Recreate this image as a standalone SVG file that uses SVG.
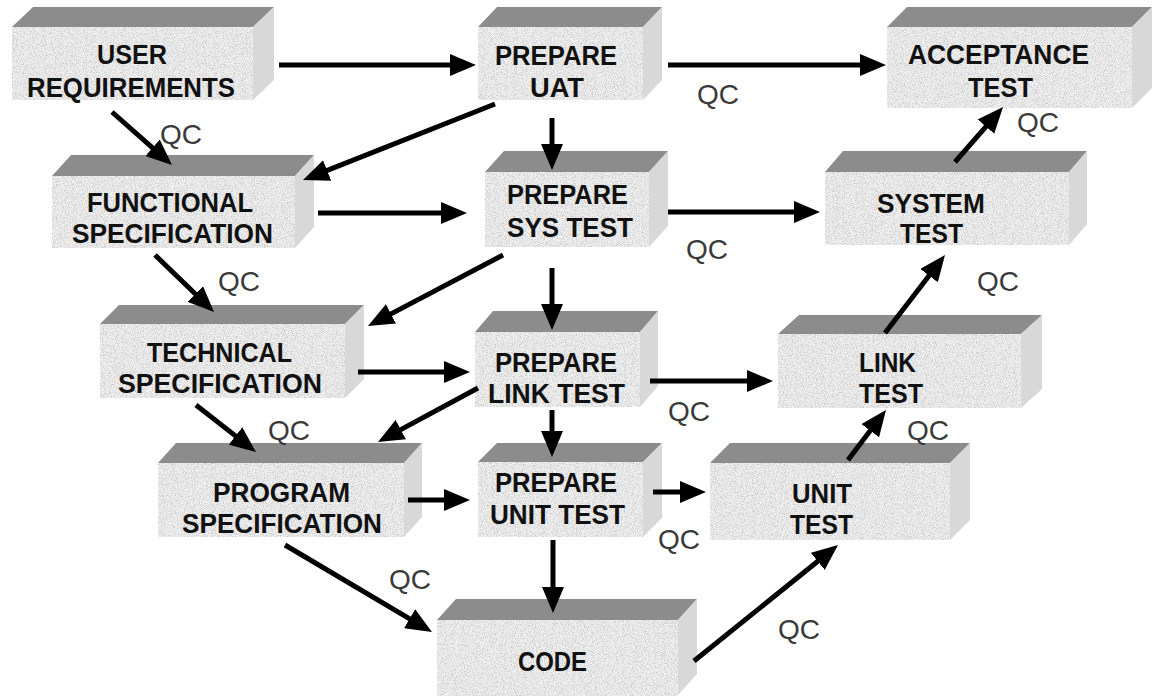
<svg xmlns="http://www.w3.org/2000/svg" width="1153" height="696" viewBox="0 0 1153 696">
<defs>
<style>
.front{fill:#f0f0f0;filter:url(#grain)}
.top{fill:#8c8c8c}
.side{fill:#d8d8d8}
.lbl{font-family:"Liberation Sans",Arial,sans-serif;font-weight:bold;font-size:27px;fill:#111}
.qc{font-family:"Liberation Sans",Arial,sans-serif;font-size:28px;fill:#3a3a3a}
.arr{stroke:#000;stroke-width:5;fill:none;marker-end:url(#ah)}
</style>
<filter id="grain" x="0" y="0" width="100%" height="100%">
<feTurbulence type="fractalNoise" baseFrequency="1.1" numOctaves="2" seed="4" result="n"/>
<feColorMatrix in="n" type="matrix" values="0 0 0 0 0.6 0 0 0 0 0.6 0 0 0 0 0.6 3.2 0 0 0 -1.35" result="g"/>
<feComposite in="g" in2="SourceGraphic" operator="in" result="gi"/>
<feMerge><feMergeNode in="SourceGraphic"/><feMergeNode in="gi"/></feMerge>
</filter>
<marker id="ah" markerUnits="userSpaceOnUse" viewBox="0 0 26 22" refX="8" refY="11" markerWidth="26" markerHeight="22" orient="auto">
<path d="M0,0 L26,11 L0,22 z" fill="#000"/>
</marker>
</defs>

<g id="user-requirements">
<polygon class="top" points="12,27 33,7 274,7 253,27"/>
<polygon class="side" points="253,27 274,7 274,80 253,100"/>
<rect class="front" x="12" y="27" width="241" height="73"/>
<text class="lbl" x="97" y="64" textLength="70" lengthAdjust="spacingAndGlyphs">USER</text>
<text class="lbl" x="27" y="97" textLength="208" lengthAdjust="spacingAndGlyphs">REQUIREMENTS</text>
</g>

<g id="prepare-uat">
<polygon class="top" points="478,27 497,7 662,7 643,27"/>
<polygon class="side" points="643,27 662,7 662,80 643,100"/>
<rect class="front" x="478" y="27" width="165" height="73"/>
<text class="lbl" x="495" y="65" textLength="122" lengthAdjust="spacingAndGlyphs">PREPARE</text>
<text class="lbl" x="530" y="97" textLength="54" lengthAdjust="spacingAndGlyphs">UAT</text>
</g>

<g id="acceptance-test">
<polygon class="top" points="887,27 907,7 1152,7 1132,27"/>
<polygon class="side" points="1132,27 1152,7 1152,88 1132,108"/>
<rect class="front" x="887" y="27" width="245" height="81"/>
<text class="lbl" x="908" y="64" textLength="181" lengthAdjust="spacingAndGlyphs">ACCEPTANCE</text>
<text class="lbl" x="968" y="97" textLength="65" lengthAdjust="spacingAndGlyphs">TEST</text>
</g>

<g id="functional-specification">
<polygon class="top" points="52,176 71,155 314,155 295,176"/>
<polygon class="side" points="295,176 314,155 314,227 295,248"/>
<rect class="front" x="52" y="176" width="243" height="72"/>
<text class="lbl" x="87" y="212" textLength="166" lengthAdjust="spacingAndGlyphs">FUNCTIONAL</text>
<text class="lbl" x="72" y="243" textLength="201" lengthAdjust="spacingAndGlyphs">SPECIFICATION</text>
</g>

<g id="prepare-sys-test">
<polygon class="top" points="485,172 504,151 668,151 649,172"/>
<polygon class="side" points="649,172 668,151 668,226 649,247"/>
<rect class="front" x="485" y="172" width="164" height="75"/>
<text class="lbl" x="507" y="204" textLength="121" lengthAdjust="spacingAndGlyphs">PREPARE</text>
<text class="lbl" x="507" y="237" textLength="126" lengthAdjust="spacingAndGlyphs">SYS TEST</text>
</g>

<g id="system-test">
<polygon class="top" points="825,172 843,151 1087,151 1069,172"/>
<polygon class="side" points="1069,172 1087,151 1087,224 1069,245"/>
<rect class="front" x="825" y="172" width="244" height="73"/>
<text class="lbl" x="877" y="213" textLength="108" lengthAdjust="spacingAndGlyphs">SYSTEM</text>
<text class="lbl" x="900" y="243" textLength="63" lengthAdjust="spacingAndGlyphs">TEST</text>
</g>

<g id="technical-specification">
<polygon class="top" points="100,324 119,305 364,305 345,324"/>
<polygon class="side" points="345,324 364,305 364,379 345,398"/>
<rect class="front" x="100" y="324" width="245" height="74"/>
<text class="lbl" x="147" y="362" textLength="145" lengthAdjust="spacingAndGlyphs">TECHNICAL</text>
<text class="lbl" x="118" y="393" textLength="204" lengthAdjust="spacingAndGlyphs">SPECIFICATION</text>
</g>

<g id="prepare-link-test">
<polygon class="top" points="475,332 493,311 658,311 640,332"/>
<polygon class="side" points="640,332 658,311 658,386 640,407"/>
<rect class="front" x="475" y="332" width="165" height="75"/>
<text class="lbl" x="495" y="372" textLength="122" lengthAdjust="spacingAndGlyphs">PREPARE</text>
<text class="lbl" x="488" y="403" textLength="137" lengthAdjust="spacingAndGlyphs">LINK TEST</text>
</g>

<g id="link-test">
<polygon class="top" points="778,334 799,315 1042,315 1021,334"/>
<polygon class="side" points="1021,334 1042,315 1042,389 1021,408"/>
<rect class="front" x="778" y="334" width="243" height="74"/>
<text class="lbl" x="859" y="372" textLength="57" lengthAdjust="spacingAndGlyphs">LINK</text>
<text class="lbl" x="859" y="403" textLength="64" lengthAdjust="spacingAndGlyphs">TEST</text>
</g>

<g id="prepare-unit-test">
<polygon class="top" points="478,462 497,443 662,443 643,462"/>
<polygon class="side" points="643,462 662,443 662,518 643,537"/>
<rect class="front" x="478" y="462" width="165" height="75"/>
<text class="lbl" x="495" y="492" textLength="122" lengthAdjust="spacingAndGlyphs">PREPARE</text>
<text class="lbl" x="490" y="524" textLength="135" lengthAdjust="spacingAndGlyphs">UNIT TEST</text>
</g>

<g id="unit-test">
<polygon class="top" points="710,463 730,443 970,443 950,463"/>
<polygon class="side" points="950,463 970,443 970,520 950,540"/>
<rect class="front" x="710" y="463" width="240" height="77"/>
<text class="lbl" x="792" y="503" textLength="60" lengthAdjust="spacingAndGlyphs">UNIT</text>
<text class="lbl" x="790" y="534" textLength="63" lengthAdjust="spacingAndGlyphs">TEST</text>
</g>

<g id="program-specification">
<polygon class="top" points="158,463 176,443 422,443 404,463"/>
<polygon class="side" points="404,463 422,443 422,517 404,537"/>
<rect class="front" x="158" y="463" width="246" height="74"/>
<text class="lbl" x="213" y="502" textLength="137" lengthAdjust="spacingAndGlyphs">PROGRAM</text>
<text class="lbl" x="182" y="533" textLength="200" lengthAdjust="spacingAndGlyphs">SPECIFICATION</text>
</g>

<g id="code">
<polygon class="top" points="437,620 456,599 697,599 678,620"/>
<polygon class="side" points="678,620 697,599 697,674 678,695"/>
<rect class="front" x="437" y="620" width="241" height="76"/>
<text class="lbl" x="518" y="671" textLength="69" lengthAdjust="spacingAndGlyphs">CODE</text>
</g>

<g id="connectors">
<line class="arr" x1="279" y1="65" x2="458" y2="65"/>
<line class="arr" x1="668" y1="65" x2="868" y2="65"/>
<line class="arr" x1="112" y1="112" x2="158.5" y2="153.1"/>
<line class="arr" x1="495" y1="104" x2="319.7" y2="173.4"/>
<line class="arr" x1="552" y1="118" x2="552" y2="152"/>
<line class="arr" x1="318" y1="213" x2="449" y2="213"/>
<line class="arr" x1="668" y1="212" x2="802" y2="212"/>
<line class="arr" x1="955" y1="162" x2="991.2" y2="120.6"/>
<line class="arr" x1="155" y1="255" x2="201.1" y2="299.5"/>
<line class="arr" x1="503" y1="255" x2="383.9" y2="317.6"/>
<line class="arr" x1="552" y1="268" x2="552" y2="312"/>
<line class="arr" x1="358" y1="372" x2="452" y2="372"/>
<line class="arr" x1="650" y1="381" x2="755" y2="381"/>
<line class="arr" x1="885" y1="333" x2="934" y2="269.3"/>
<line class="arr" x1="196" y1="405" x2="241.8" y2="440.9"/>
<line class="arr" x1="478" y1="388" x2="393.8" y2="433.4"/>
<line class="arr" x1="552" y1="410" x2="552" y2="439"/>
<line class="arr" x1="408" y1="500" x2="452" y2="500"/>
<line class="arr" x1="653" y1="492" x2="688" y2="492"/>
<line class="arr" x1="848" y1="460" x2="875.1" y2="424.3"/>
<line class="arr" x1="553" y1="540" x2="553" y2="595"/>
<line class="arr" x1="285" y1="545" x2="416.5" y2="622.8"/>
<line class="arr" x1="694" y1="661" x2="824" y2="556.3"/>
</g>

<g id="qc-labels">
<text class="qc" x="160" y="144">QC</text>
<text class="qc" x="697" y="104">QC</text>
<text class="qc" x="1017" y="132">QC</text>
<text class="qc" x="218" y="291">QC</text>
<text class="qc" x="686" y="259">QC</text>
<text class="qc" x="977" y="291">QC</text>
<text class="qc" x="268" y="440">QC</text>
<text class="qc" x="668" y="421">QC</text>
<text class="qc" x="907" y="440">QC</text>
<text class="qc" x="658" y="549">QC</text>
<text class="qc" x="389" y="589">QC</text>
<text class="qc" x="778" y="639">QC</text>
</g>
</svg>
